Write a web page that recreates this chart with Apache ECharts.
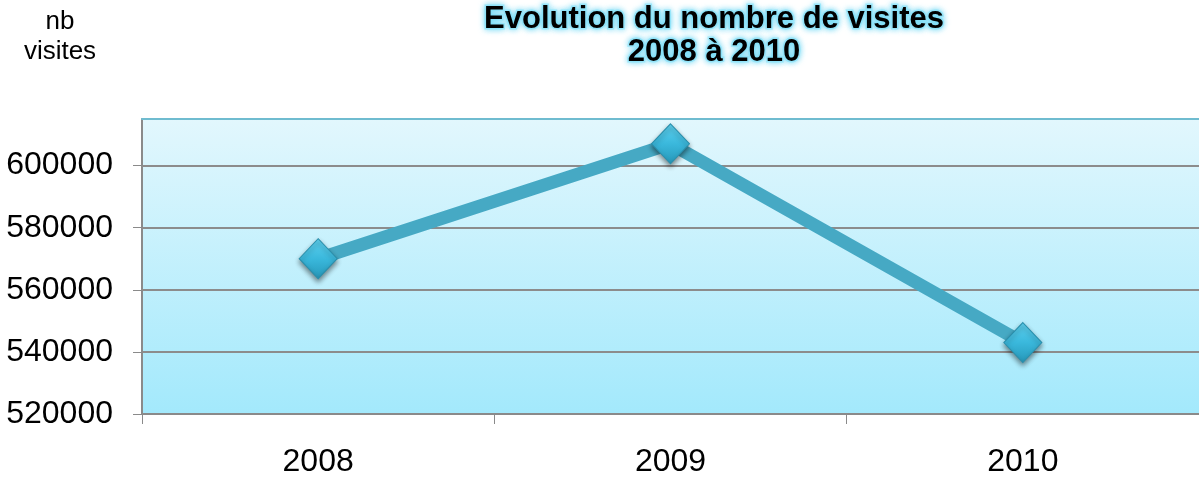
<!DOCTYPE html>
<html lang="fr">
<head>
<meta charset="UTF-8">
<title>Evolution du nombre de visites</title>
<script src="https://cdn.jsdelivr.net/npm/echarts@6/dist/echarts.min.js"></script>
<style>
    * { margin: 0; padding: 0; }
    html, body { width: 1199px; height: 479px; background: #fff; }
    #chart { width: 1199px; height: 479px; }
</style>
</head>
<body>
<div id="chart"></div>
<script>
    var years = ['2008', '2009', '2010'];
    var visites = [570000, 607000, 543000];
    var yMin = 520000, yMax = 615000, yStep = 20000;

    var chart = echarts.init(document.getElementById('chart'));
    var font = '"Liberation Sans", Arial, sans-serif';

    var option = {
        animation: false,
        title: [{
            text: 'Evolution du nombre de visites\n2008 à 2010',
            left: 709,
            textAlign: 'center',
            top: -2,
            textStyle: {
                fontFamily: font,
                fontSize: 31,
                fontWeight: 'bold',
                color: '#000',
                lineHeight: 33,
                textBorderColor: 'rgba(150,230,250,0.8)',
                textBorderWidth: 3,
                textShadowColor: '#6fd8f5',
                textShadowBlur: 6
            }
        }, {
            text: 'nb\nvisites',
            left: 55,
            textAlign: 'center',
            top: 2,
            textStyle: {
                fontFamily: font,
                fontSize: 26,
                fontWeight: 'normal',
                color: '#000',
                lineHeight: 30
            }
        }],
        grid: {
            left: 142,
            right: -3,
            top: 119,
            bottom: 65,
            show: true,
            borderWidth: 0,
            backgroundColor: new echarts.graphic.LinearGradient(0, 0, 0, 1, [
                { offset: 0, color: '#e2f7fd' },
                { offset: 1, color: '#a3e9fc' }
            ])
        },
        xAxis: [{
            type: 'category',
            data: years,
            boundaryGap: true,
            axisLine: { lineStyle: { color: '#8a8a8a', width: 2 } },
            axisTick: { show: true, length: 10, lineStyle: { color: '#8a8a8a', width: 1 } },
            axisLabel: { fontFamily: font, fontSize: 32, color: '#000', margin: 32 }
        }, {
            type: 'category',
            data: years,
            position: 'top',
            boundaryGap: true,
            axisLine: { lineStyle: { color: '#6fbcd0', width: 2 } },
            axisTick: { show: false },
            axisLabel: { show: false }
        }],
        yAxis: {
            type: 'value',
            min: yMin,
            max: yMax,
            interval: yStep,
            axisLine: { show: true, lineStyle: { color: '#8a8a8a', width: 2 } },
            axisTick: { show: true, length: 9, lineStyle: { color: '#8a8a8a', width: 1 } },
            axisLabel: {
                fontFamily: font, fontSize: 32, color: '#000', margin: 29, showMaxLabel: false,
                formatter: function (v) { return String(v); }
            },
            splitLine: {
                show: true,
                lineStyle: {
                    color: ['#8c8c8c', '#8c8c8c', '#8c8c8c', '#8c8c8c', '#8c8c8c', 'rgba(0,0,0,0)'],
                    width: 2
                }
            }
        },
        series: [{
            type: 'line',
            data: visites,
            xAxisIndex: 0,
            symbol: 'diamond',
            symbolSize: [38, 40],
            lineStyle: { color: '#46a9c4', width: 13 },
            itemStyle: {
                color: new echarts.graphic.LinearGradient(0, 0, 0, 1, [
                    { offset: 0, color: '#5fd2f0' },
                    { offset: 0.5, color: '#3ab8dc' },
                    { offset: 1, color: '#2697b8' }
                ]),
                borderColor: '#2a8fac',
                borderWidth: 1,
                shadowColor: 'rgba(0,0,0,0.45)',
                shadowBlur: 5,
                shadowOffsetY: 3
            }
        }]
    };
    chart.setOption(option);
</script>
</body>
</html>
